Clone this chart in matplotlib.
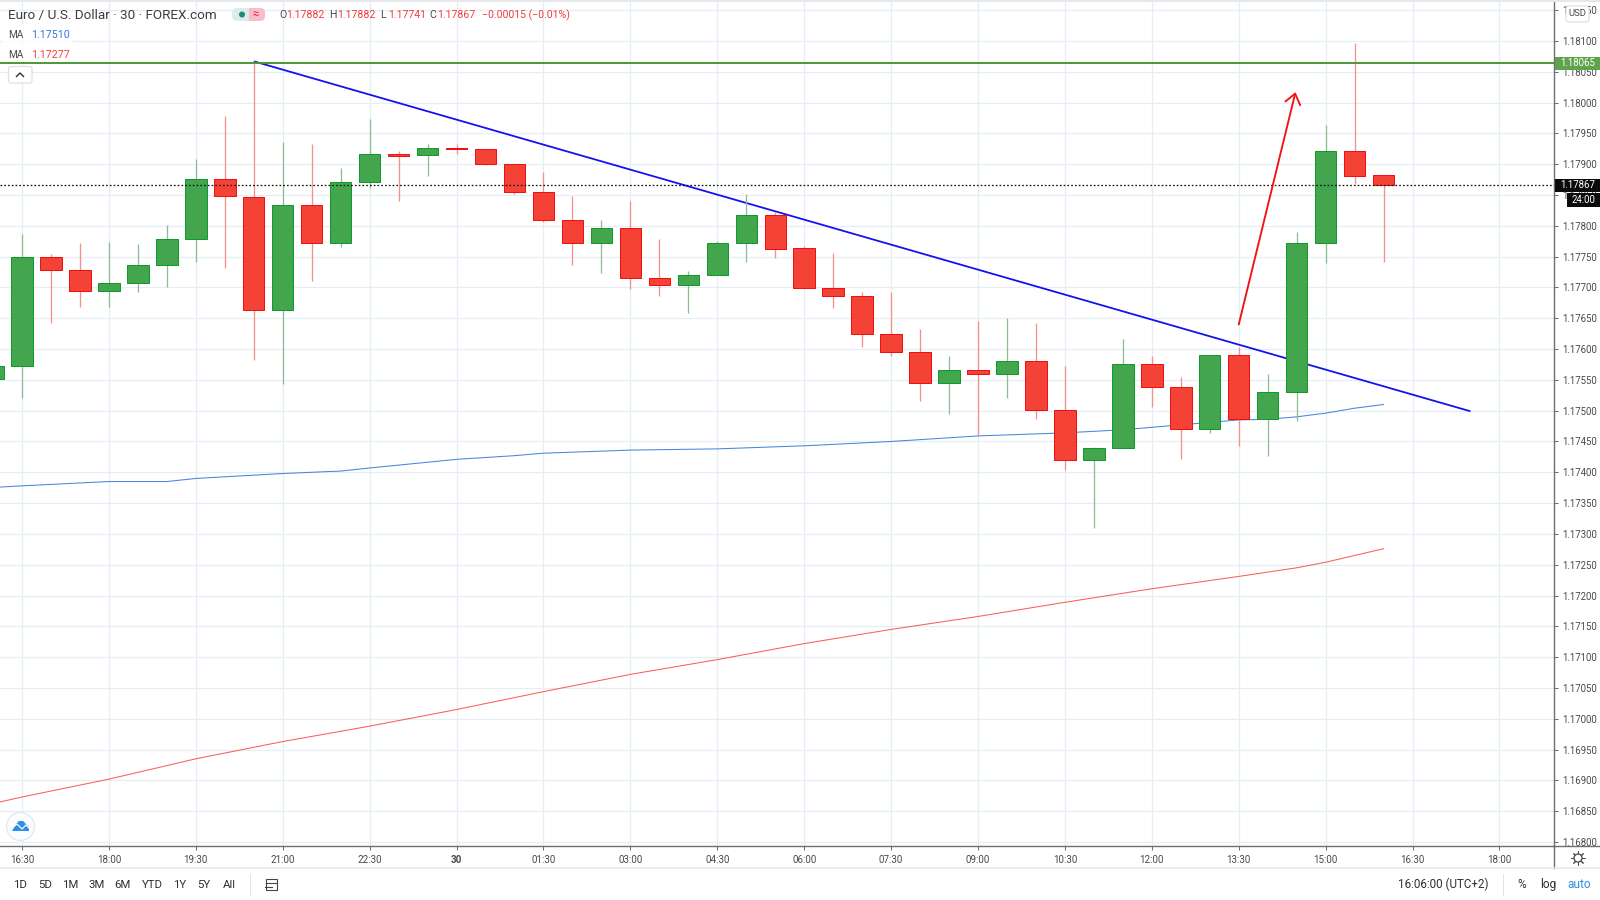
import matplotlib
matplotlib.use("Agg")
import matplotlib.pyplot as plt
from matplotlib.patches import Rectangle, FancyBboxPatch, Circle, Polygon

plt.rcParams['font.family'] = ['Roboto', 'DejaVu Sans']

# ---------- data ----------
bar_index = list(range(-1, 48))
opens = [1.17552, 1.17572, 1.17749, 1.17728, 1.17695, 1.17708, 1.17736, 1.17779, 1.17876, 1.17847, 1.17663,
         1.17834, 1.17772, 1.17871, 1.17917, 1.17915, 1.17927, 1.17925, 1.17900, 1.17855, 1.17809, 1.17772,
         1.17797, 1.17716, 1.17704, 1.17720, 1.17772, 1.17818, 1.17764, 1.17699, 1.17686, 1.17624, 1.17596,
         1.17545, 1.17566, 1.17559, 1.17581, 1.17501, 1.17420, 1.17439, 1.17576, 1.17539, 1.17470, 1.17590,
         1.17486, 1.17530, 1.17772, 1.17921, 1.17882]
closes = [1.17572, 1.17749, 1.17728, 1.17695, 1.17708, 1.17736, 1.17779, 1.17876, 1.17848, 1.17663, 1.17834,
          1.17772, 1.17871, 1.17917, 1.17914, 1.17927, 1.17924, 1.17900, 1.17855, 1.17809, 1.17772, 1.17797,
          1.17716, 1.17704, 1.17720, 1.17772, 1.17818, 1.17763, 1.17699, 1.17686, 1.17624, 1.17596, 1.17545,
          1.17566, 1.17559, 1.17581, 1.17501, 1.17420, 1.17439, 1.17576, 1.17539, 1.17470, 1.17590, 1.17487,
          1.17530, 1.17772, 1.17921, 1.17881, 1.17867]
highs = [1.17572, 1.17786, 1.17755, 1.17772, 1.17774, 1.17770, 1.17802, 1.17909, 1.17978, 1.18067, 1.17936,
         1.17932, 1.17894, 1.17974, 1.17922, 1.17932, 1.17932, 1.17925, 1.17900, 1.17888, 1.17848, 1.17810,
         1.17841, 1.17779, 1.17727, 1.17776, 1.17852, 1.17823, 1.17768, 1.17756, 1.17693, 1.17693, 1.17633,
         1.17588, 1.17646, 1.17650, 1.17643, 1.17572, 1.17441, 1.17617, 1.17589, 1.17555, 1.17590, 1.17603,
         1.17560, 1.17790, 1.17963, 1.18097, 1.17882]
lows = [1.17552, 1.17520, 1.17642, 1.17668, 1.17668, 1.17693, 1.17701, 1.17741, 1.17732, 1.17582, 1.17543,
        1.17710, 1.17766, 1.17862, 1.17841, 1.17881, 1.17916, 1.17898, 1.17852, 1.17806, 1.17737, 1.17723,
        1.17698, 1.17686, 1.17658, 1.17720, 1.17742, 1.17748, 1.17699, 1.17667, 1.17604, 1.17588, 1.17515,
        1.17495, 1.17460, 1.17521, 1.17487, 1.17403, 1.17309, 1.17439, 1.17506, 1.17422, 1.17463, 1.17442,
        1.17426, 1.17483, 1.17740, 1.17868, 1.17741]

ma_blue_x = [-0.76, 0, 3, 5, 6, 9, 11, 12, 15, 17, 18, 21, 24, 27, 30, 33, 36, 38, 40, 42, 43, 44, 45, 46, 47]
ma_blue_y = [1.17376, 1.17378, 1.17385, 1.17385, 1.17390, 1.17398, 1.17402, 1.17407, 1.17421, 1.17427, 1.17431,
             1.17436, 1.17438, 1.17443, 1.17450, 1.17459, 1.17464, 1.17469, 1.17477, 1.17485, 1.17486, 1.17490,
             1.17496, 1.17504, 1.17510]
ma_red_x = [-0.76, 0, 3, 6, 9, 12, 15, 18, 21, 24, 27, 30, 33, 36, 39, 42, 44, 45, 47]
ma_red_y = [1.16865, 1.16873, 1.16902, 1.16935, 1.16963, 1.16988, 1.17015, 1.17044, 1.17072, 1.17096, 1.17122,
            1.17145, 1.17166, 1.17189, 1.17211, 1.17231, 1.17245, 1.17254, 1.17276]

trend_x = [8, 50]
trend_y = [1.18067, 1.17499]
arrow_x = [42, 43.96]
arrow_y = [1.17640, 1.18017]
resistance = 1.18065
last_close = 1.17867

x_tick_pos = list(range(0, 52, 3))
x_tick_labels = ['16:30', '18:00', '19:30', '21:00', '22:30', '30', '01:30', '03:00', '04:30', '06:00', '07:30',
                 '09:00', '10:30', '12:00', '13:30', '15:00', '16:30', '18:00']
y_ticks = [1.168 + 0.0005 * k for k in range(28)]
range_buttons = ['1D', '5D', '1M', '3M', '6M', 'YTD', '1Y', '5Y', 'All']

# ---------- style ----------
GREEN_BODY, GREEN_EDGE, GREEN_WICK = '#43a64e', '#0f9a2c', '#8dbd93'
RED_BODY, RED_EDGE, RED_WICK = '#f44336', '#f01010', '#f88f88'
GRID = '#e6eef5'
AXC = '#6e6e6e'
TXT = '#4a4a4a'
PX = 0.72

fig = plt.figure(figsize=(16, 9), dpi=100, facecolor='white')
ax = fig.add_axes([0, 54 / 900, 1554 / 1600, 846 / 900])
ax.set_xlim(-22 / 28.97, (1554 - 22) / 28.97)
ax.set_ylim(1.167935, 1.181665)
ax.set_axisbelow(True)
ax.grid(True, color=GRID, lw=1.3 * PX)

ax.plot(ma_blue_x, ma_blue_y, color='#4a86d8', lw=1.05 * PX, zorder=2)
ax.plot(ma_red_x, ma_red_y, color='#f8605a', lw=1.05 * PX, zorder=2)
ax.plot(trend_x, trend_y, color='#1212f0', lw=1.8 * PX, zorder=2.5, solid_capstyle='butt')

for x, o, h, l, c in zip(bar_index, opens, highs, lows, closes):
    up = c >= o
    ax.vlines(x, l, h, color=GREEN_WICK if up else RED_WICK, lw=1.3 * PX, zorder=3)
    ax.add_patch(Rectangle((x - 0.37, min(o, c)), 0.74, abs(c - o),
                           facecolor=GREEN_BODY if up else RED_BODY,
                           edgecolor=GREEN_EDGE if up else RED_EDGE, lw=1.0 * PX, zorder=4))

ax.axhline(resistance, color='#46962f', lw=1.9 * PX, zorder=5)
ax.axhline(last_close, color='#111111', lw=1.3 * PX, ls=(0, (1.3, 1.6)), zorder=5)
ax.annotate('', xy=(arrow_x[1], arrow_y[1]), xytext=(arrow_x[0], arrow_y[0]), zorder=6,
            arrowprops=dict(arrowstyle='->,head_length=0.72,head_width=0.55', color='#f01515',
                            lw=1.9 * PX, shrinkA=0, shrinkB=0))

ax.set_xticks(x_tick_pos)
ax.set_xticklabels(x_tick_labels)
for lab, t in zip(ax.get_xticklabels(), x_tick_labels):
    if t == '30':
        lab.set_fontweight('bold')
ax.yaxis.tick_right()
ax.set_yticks(y_ticks)
ax.set_yticklabels([f'{v:.5f}' for v in y_ticks])
ax.tick_params(axis='x', length=3, width=PX, color=AXC, labelsize=7.1, labelcolor=TXT, pad=3.6)
ax.tick_params(axis='y', length=3, width=PX, color=AXC, labelsize=6.9, labelcolor=TXT, pad=3)
for s in ['top', 'left']:
    ax.spines[s].set_visible(False)
for s in ['bottom', 'right']:
    ax.spines[s].set_color(AXC)
    ax.spines[s].set_linewidth(1.4 * PX)

# ---------- interface chrome, in pixel coordinates ----------
ui = fig.add_axes([0, 0, 1, 1], facecolor='none', zorder=10)
ui.set_xlim(0, 1600)
ui.set_ylim(900, 0)
ui.axis('off')


def label(x, y, s, color=TXT, size=8.6, ha='left', **kw):
    ui.text(x, y, s, color=color, fontsize=size, ha=ha, va='center', **kw)


ui.add_patch(Rectangle((0, 0), 1600, 1.5, color='#e6e8ec', lw=0))
ui.plot([1554, 1600], [846, 846], color=AXC, lw=1.4 * PX)
ui.plot([1554, 1554], [846, 868], color=AXC, lw=1.4 * PX)
ui.plot([0, 1600], [868, 868], color='#e6e8ec', lw=1.5 * PX)
ui.plot([250, 250], [874, 895], color='#e0e3e8', lw=PX)
ui.plot([1503, 1503], [874, 895], color='#e0e3e8', lw=PX)

# header
label(8, 15, 'Euro / U.S. Dollar · 30 · FOREX.com', color='#3d3d3d', size=9.7)
ui.add_patch(FancyBboxPatch((232, 8), 16, 13, boxstyle='round,pad=0,rounding_size=5', fc='#dcecea', ec='none'))
ui.add_patch(Rectangle((242, 8), 7, 13, fc='#dcecea', ec='none'))
ui.add_patch(FancyBboxPatch((249, 8), 16, 13, boxstyle='round,pad=0,rounding_size=5', fc='#f8bccb', ec='none'))
ui.add_patch(Rectangle((249, 8), 7, 13, fc='#f8bccb', ec='none'))
ui.add_patch(Circle((242, 14.5), 3, fc='#22867a', ec='none'))
label(256, 14, '≈', color='#e0303a', size=8, ha='center')

REDT = '#f23c3c'
x0 = 279
for key, val, w in [('O', '1.17882', 50.5), ('H', '1.17882', 51), ('L', '1.17741', 49), ('C', '1.17867', 0)]:
    label(x0, 15, key, size=7.6)
    label(x0 + 7.5, 15, val, color=REDT, size=7.6)
    x0 += w
label(481.5, 15, '−0.00015 (−0.01%)', color=REDT, size=7.6)

ui.add_patch(Rectangle((2, 24), 71, 38, fc='white', ec='none', alpha=0.8))
label(8, 35, 'MA', size=7.2)
label(31, 35, '1.17510', color='#2f7bd6', size=7.7)
label(8, 54.5, 'MA', size=7.2)
label(31, 54.5, '1.17277', color='#f23c3c', size=7.7)

ui.add_patch(FancyBboxPatch((8.5, 66.5), 23.5, 16.5, boxstyle='round,pad=0,rounding_size=2.5',
                            fc='white', ec='#dcdfe4', lw=1.2 * PX))
ui.plot([16.5, 20, 23.5], [76.5, 73, 76.5], color='#333333', lw=1.4 * PX)

# right-hand price labels
ui.add_patch(Rectangle((1555, 56.5), 45, 13.5, fc='#5fa34d', ec='none'))
label(1577.5, 63, '1.18065', color='white', size=6.9, ha='center')
ui.add_patch(Rectangle((1555, 178.5), 45, 13.5, fc='#0b0b0b', ec='none'))
label(1577.5, 185, '1.17867', color='white', size=6.9, ha='center')
ui.add_patch(Rectangle((1567, 193), 33, 14, fc='#0b0b0b', ec='none'))
label(1583.5, 200, '24:00', color='white', size=6.9, ha='center')
ui.add_patch(FancyBboxPatch((1566, 6), 23, 16, boxstyle='round,pad=0,rounding_size=3',
                            fc='white', ec='#dcdfe4', lw=1.2 * PX))
label(1577.5, 14, 'USD', size=6.8, ha='center')

# logo bubble
ui.add_patch(Circle((20.5, 826.5), 14, fc='#fbfcfd', ec='#e3e6ea', lw=1.2 * PX))
ui.add_patch(Polygon([(12, 831), (16, 824), (19, 821), (23, 821), (26, 824), (29, 827), (29, 831)],
                     closed=True, fc='#2f8fe6', ec='none'))
ui.plot([12, 17, 22, 26, 30], [828, 824, 829, 825, 829], color='white', lw=1.2 * PX)

# bottom toolbar
for x, s in zip([20, 45, 70.7, 96.7, 122.5, 152, 180, 204, 229], range_buttons):
    label(x, 884.5, s, color='#2f2f2f', size=8.2, ha='center')
ui.add_patch(Rectangle((265.5, 879), 11, 11, fc='none', ec='#444444', lw=1.1 * PX))
ui.plot([265.5, 276.5], [882.5, 882.5], color='#444444', lw=1.1 * PX)
ui.plot([265, 272], [887, 887], color='#444444', lw=1.1 * PX)
label(1443, 884.5, '16:06:00 (UTC+2)', color='#2f2f2f', size=8.4, ha='center')
label(1522, 884.5, '%', color='#2f2f2f', size=8.6, ha='center')
label(1548, 884.5, 'log', color='#2f2f2f', size=8.6, ha='center')
label(1579, 884.5, 'auto', color='#2f8fe6', size=8.6, ha='center')
ui.plot(1578, 858, marker=(8, 2, 0), ms=10, mew=1.0 * PX, color='#444444', zorder=1)
ui.add_patch(Circle((1578, 858), 4, fc='white', ec='#444444', lw=1.2 * PX, zorder=2))

fig.savefig('out.png', dpi=100, facecolor='white')
